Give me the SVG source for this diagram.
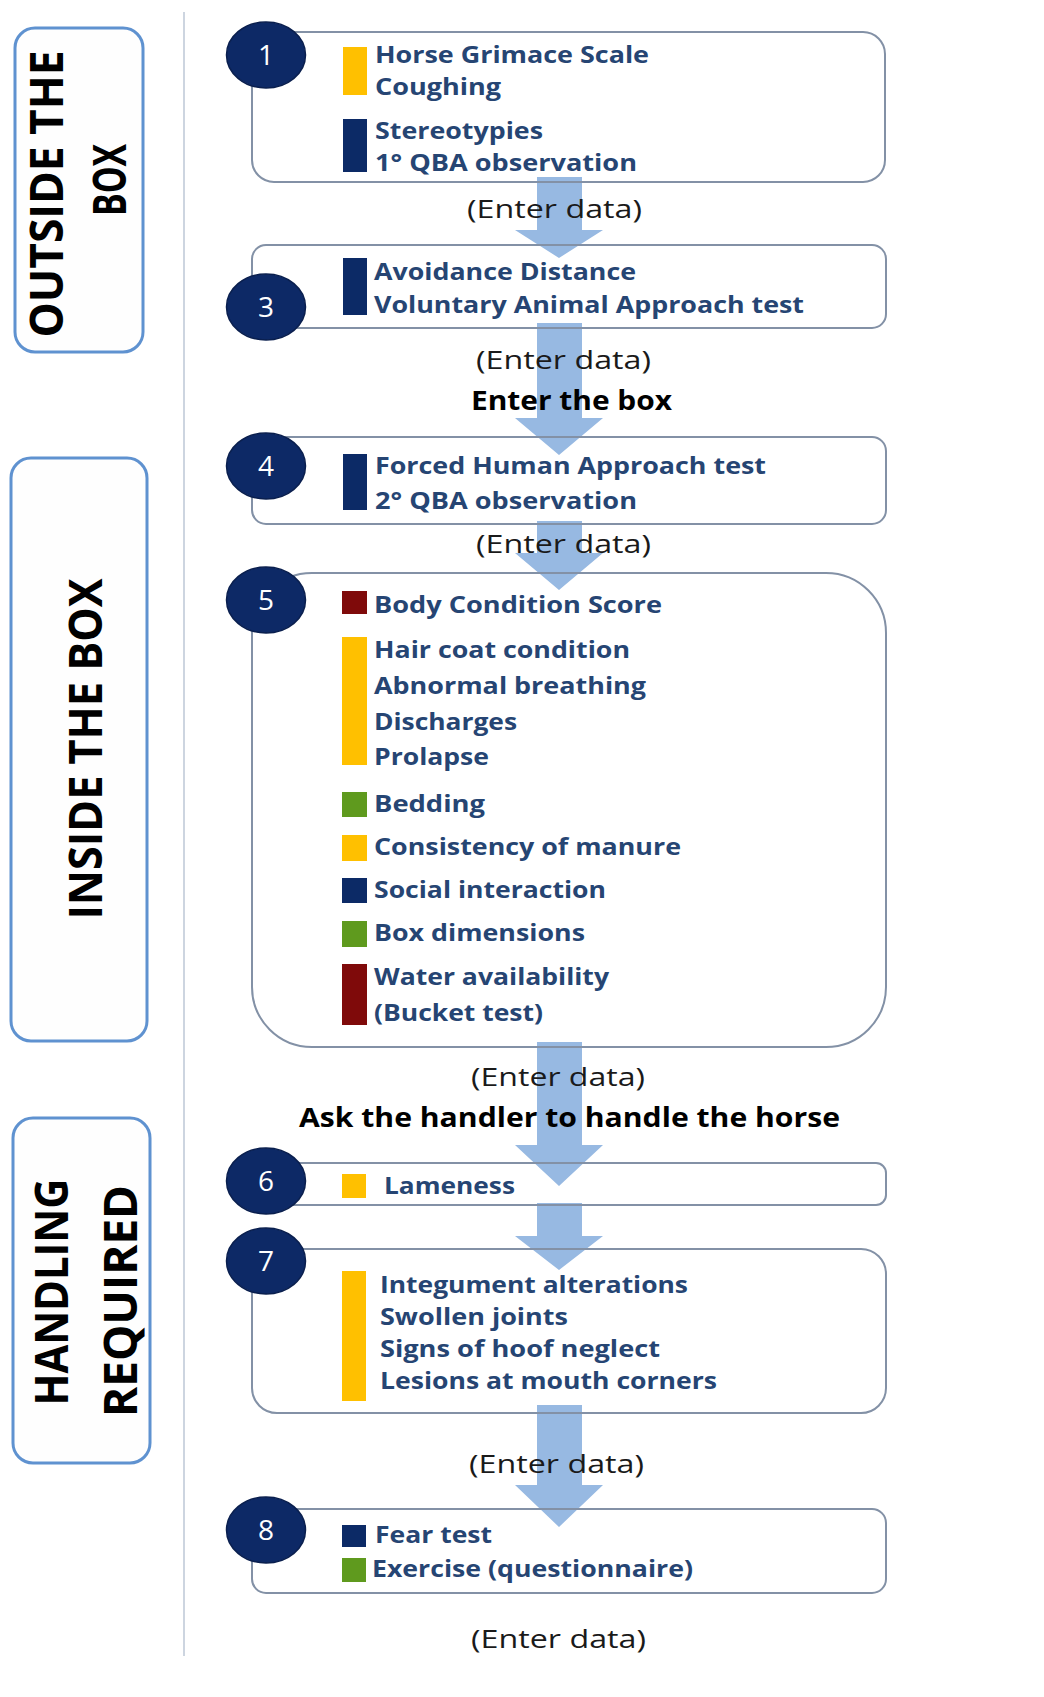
<svg xmlns="http://www.w3.org/2000/svg" width="1044" height="1697" viewBox="0 0 1044 1697">
<style>
  .bg { fill: #ffffff; }
  .side { fill: #fefefe; stroke: #5f92d0; stroke-width: 3; }
  .sidet { font-family: "Open Sans", "Liberation Sans", sans-serif; font-weight: 700; font-size: 47px; fill: #000000; text-anchor: middle; }
  .box { fill: none; stroke: #8391a6; stroke-width: 2; }
  .num { fill: #0d2966; stroke: #0a1f4e; stroke-width: 1.5; }
  .numt { font-family: "Open Sans", "Liberation Sans", sans-serif; font-size: 28px; fill: #ffffff; text-anchor: middle; }
  .item { font-family: "Open Sans", "Liberation Sans", sans-serif; font-weight: 700; font-size: 24px; fill: #264573; }
  .enter { font-family: "Open Sans", "Liberation Sans", sans-serif; font-size: 26px; fill: #1a1a1a; }
  .step { font-family: "Open Sans", "Liberation Sans", sans-serif; font-weight: 700; font-size: 26px; fill: #000000; }
  .y { fill: #ffc000; }
  .n { fill: #0c2a66; }
  .r { fill: #7f0a0a; }
  .g { fill: #5f9a1e; }
  .arrow { fill: #97b9e2; }
  .sep { stroke: #cdd5e0; stroke-width: 2; }
</style>
<rect class="bg" x="0" y="0" width="1044" height="1697"/>
<line class="sep" x1="184" y1="12" x2="184" y2="1656"/>

<g id="connectors">
  <polygon class="arrow" points="537,177 582,177 582,230 603,230 559,258 515,230 537,230"/>
  <polygon class="arrow" points="537,323 582,323 582,418 603,418 559,455 515,418 537,418"/>
  <polygon class="arrow" points="537,521 582,521 582,553 603,553 559,590 515,553 537,553"/>
  <polygon class="arrow" points="537,1042 582,1042 582,1145 603,1145 559,1186 515,1145 537,1145"/>
  <polygon class="arrow" points="537,1203 582,1203 582,1236 603,1236 559,1270 515,1236 537,1236"/>
  <polygon class="arrow" points="537,1405 582,1405 582,1485 603,1485 559,1527 515,1485 537,1485"/>
</g>

<g id="side-outside">
  <rect class="side" x="15" y="28" width="128" height="324" rx="20"/>
  <text class="sidet" transform="translate(63,194) rotate(-90)" textLength="287" lengthAdjust="spacingAndGlyphs">OUTSIDE THE</text>
  <text class="sidet" transform="translate(126,180) rotate(-90)" textLength="72" lengthAdjust="spacingAndGlyphs">BOX</text>
</g>
<g id="side-inside">
  <rect class="side" x="11" y="458" width="136" height="583" rx="20"/>
  <text class="sidet" transform="translate(102,749) rotate(-90)" textLength="341" lengthAdjust="spacingAndGlyphs">INSIDE THE BOX</text>
</g>
<g id="side-handling">
  <rect class="side" x="13" y="1118" width="137" height="345" rx="20"/>
  <text class="sidet" transform="translate(68,1292) rotate(-90)" textLength="227" lengthAdjust="spacingAndGlyphs">HANDLING</text>
  <text class="sidet" transform="translate(137,1301) rotate(-90)" textLength="232" lengthAdjust="spacingAndGlyphs">REQUIRED</text>
</g>

<g id="step1">
  <rect class="box" x="252" y="32" width="633" height="150" rx="22"/>
  <rect class="y" x="343" y="47" width="24" height="48"/>
  <rect class="n" x="343" y="119" width="24" height="53"/>
  <text class="item" x="375" y="63" textLength="274" lengthAdjust="spacingAndGlyphs">Horse Grimace Scale</text>
  <text class="item" x="375" y="95" textLength="126" lengthAdjust="spacingAndGlyphs">Coughing</text>
  <text class="item" x="375" y="139" textLength="168" lengthAdjust="spacingAndGlyphs">Stereotypies</text>
  <text class="item" x="375" y="171" textLength="262" lengthAdjust="spacingAndGlyphs">1° QBA observation</text>
  <ellipse class="num" cx="266" cy="55" rx="39.5" ry="33"/>
  <text class="numt" x="266" y="65">1</text>
</g>

<g id="step3">
  <rect class="box" x="252" y="245" width="634" height="83" rx="14"/>
  <rect class="n" x="343" y="258" width="24" height="57"/>
  <text class="item" x="374" y="280" textLength="262" lengthAdjust="spacingAndGlyphs">Avoidance Distance</text>
  <text class="item" x="374" y="313" textLength="430" lengthAdjust="spacingAndGlyphs">Voluntary Animal Approach test</text>
  <ellipse class="num" cx="266" cy="307" rx="39.5" ry="33"/>
  <text class="numt" x="266" y="317">3</text>
</g>

<g id="step4">
  <rect class="box" x="252" y="437" width="634" height="87" rx="14"/>
  <rect class="n" x="343" y="454" width="24" height="56"/>
  <text class="item" x="375" y="474" textLength="391" lengthAdjust="spacingAndGlyphs">Forced Human Approach test</text>
  <text class="item" x="375" y="509" textLength="262" lengthAdjust="spacingAndGlyphs">2° QBA observation</text>
  <ellipse class="num" cx="266" cy="466" rx="39.5" ry="33"/>
  <text class="numt" x="266" y="476">4</text>
</g>

<g id="step5">
  <rect class="box" x="252" y="573" width="634" height="474" rx="60"/>
  <rect class="r" x="342" y="591" width="25" height="23"/>
  <rect class="y" x="342" y="637" width="25" height="128"/>
  <rect class="g" x="342" y="792" width="25" height="25"/>
  <rect class="y" x="342" y="835" width="25" height="26"/>
  <rect class="n" x="342" y="878" width="25" height="25"/>
  <rect class="g" x="342" y="921" width="25" height="26"/>
  <rect class="r" x="342" y="964" width="25" height="61"/>
  <text class="item" x="374" y="613" textLength="288" lengthAdjust="spacingAndGlyphs">Body Condition Score</text>
  <text class="item" x="374" y="658" textLength="256" lengthAdjust="spacingAndGlyphs">Hair coat condition</text>
  <text class="item" x="374" y="694" textLength="272" lengthAdjust="spacingAndGlyphs">Abnormal breathing</text>
  <text class="item" x="374" y="730" textLength="143" lengthAdjust="spacingAndGlyphs">Discharges</text>
  <text class="item" x="374" y="765" textLength="115" lengthAdjust="spacingAndGlyphs">Prolapse</text>
  <text class="item" x="374" y="812" textLength="111" lengthAdjust="spacingAndGlyphs">Bedding</text>
  <text class="item" x="374" y="855" textLength="307" lengthAdjust="spacingAndGlyphs">Consistency of manure</text>
  <text class="item" x="374" y="898" textLength="232" lengthAdjust="spacingAndGlyphs">Social interaction</text>
  <text class="item" x="374" y="941" textLength="211" lengthAdjust="spacingAndGlyphs">Box dimensions</text>
  <text class="item" x="374" y="985" textLength="235" lengthAdjust="spacingAndGlyphs">Water availability</text>
  <text class="item" x="374" y="1021" textLength="169" lengthAdjust="spacingAndGlyphs">(Bucket test)</text>
  <ellipse class="num" cx="266" cy="600" rx="39.5" ry="33"/>
  <text class="numt" x="266" y="610">5</text>
</g>

<g id="step6">
  <rect class="box" x="252" y="1163" width="634" height="42" rx="10"/>
  <rect class="y" x="342" y="1174" width="24" height="24"/>
  <text class="item" x="384" y="1194" textLength="131" lengthAdjust="spacingAndGlyphs">Lameness</text>
  <ellipse class="num" cx="266" cy="1181" rx="39.5" ry="33"/>
  <text class="numt" x="266" y="1191">6</text>
</g>

<g id="step7">
  <rect class="box" x="252" y="1249" width="634" height="164" rx="25"/>
  <rect class="y" x="342" y="1271" width="24" height="130"/>
  <text class="item" x="380" y="1293" textLength="308" lengthAdjust="spacingAndGlyphs">Integument alterations</text>
  <text class="item" x="380" y="1325" textLength="188" lengthAdjust="spacingAndGlyphs">Swollen joints</text>
  <text class="item" x="380" y="1357" textLength="280" lengthAdjust="spacingAndGlyphs">Signs of hoof neglect</text>
  <text class="item" x="380" y="1389" textLength="337" lengthAdjust="spacingAndGlyphs">Lesions at mouth corners</text>
  <ellipse class="num" cx="266" cy="1261" rx="39.5" ry="33"/>
  <text class="numt" x="266" y="1271">7</text>
</g>

<g id="step8">
  <rect class="box" x="252" y="1509" width="634" height="84" rx="14"/>
  <rect class="n" x="342" y="1525" width="24" height="22"/>
  <rect class="g" x="342" y="1558" width="24" height="24"/>
  <text class="item" x="375" y="1543" textLength="117" lengthAdjust="spacingAndGlyphs">Fear test</text>
  <text class="item" x="372" y="1577" textLength="321" lengthAdjust="spacingAndGlyphs">Exercise (questionnaire)</text>
  <ellipse class="num" cx="266" cy="1530" rx="39.5" ry="33"/>
  <text class="numt" x="266" y="1540">8</text>
</g>

<g id="labels">
  <text class="enter" x="467" y="218" textLength="175" lengthAdjust="spacingAndGlyphs">(Enter data)</text>
  <text class="enter" x="476" y="369" textLength="175" lengthAdjust="spacingAndGlyphs">(Enter data)</text>
  <text class="step" x="471" y="410" textLength="201" lengthAdjust="spacingAndGlyphs">Enter the box</text>
  <text class="enter" x="476" y="553" textLength="175" lengthAdjust="spacingAndGlyphs">(Enter data)</text>
  <text class="enter" x="471" y="1086" textLength="174" lengthAdjust="spacingAndGlyphs">(Enter data)</text>
  <text class="step" x="299" y="1127" textLength="541" lengthAdjust="spacingAndGlyphs">Ask the handler to handle the horse</text>
  <text class="enter" x="469" y="1473" textLength="175" lengthAdjust="spacingAndGlyphs">(Enter data)</text>
  <text class="enter" x="471" y="1648" textLength="175" lengthAdjust="spacingAndGlyphs">(Enter data)</text>
</g>
</svg>
